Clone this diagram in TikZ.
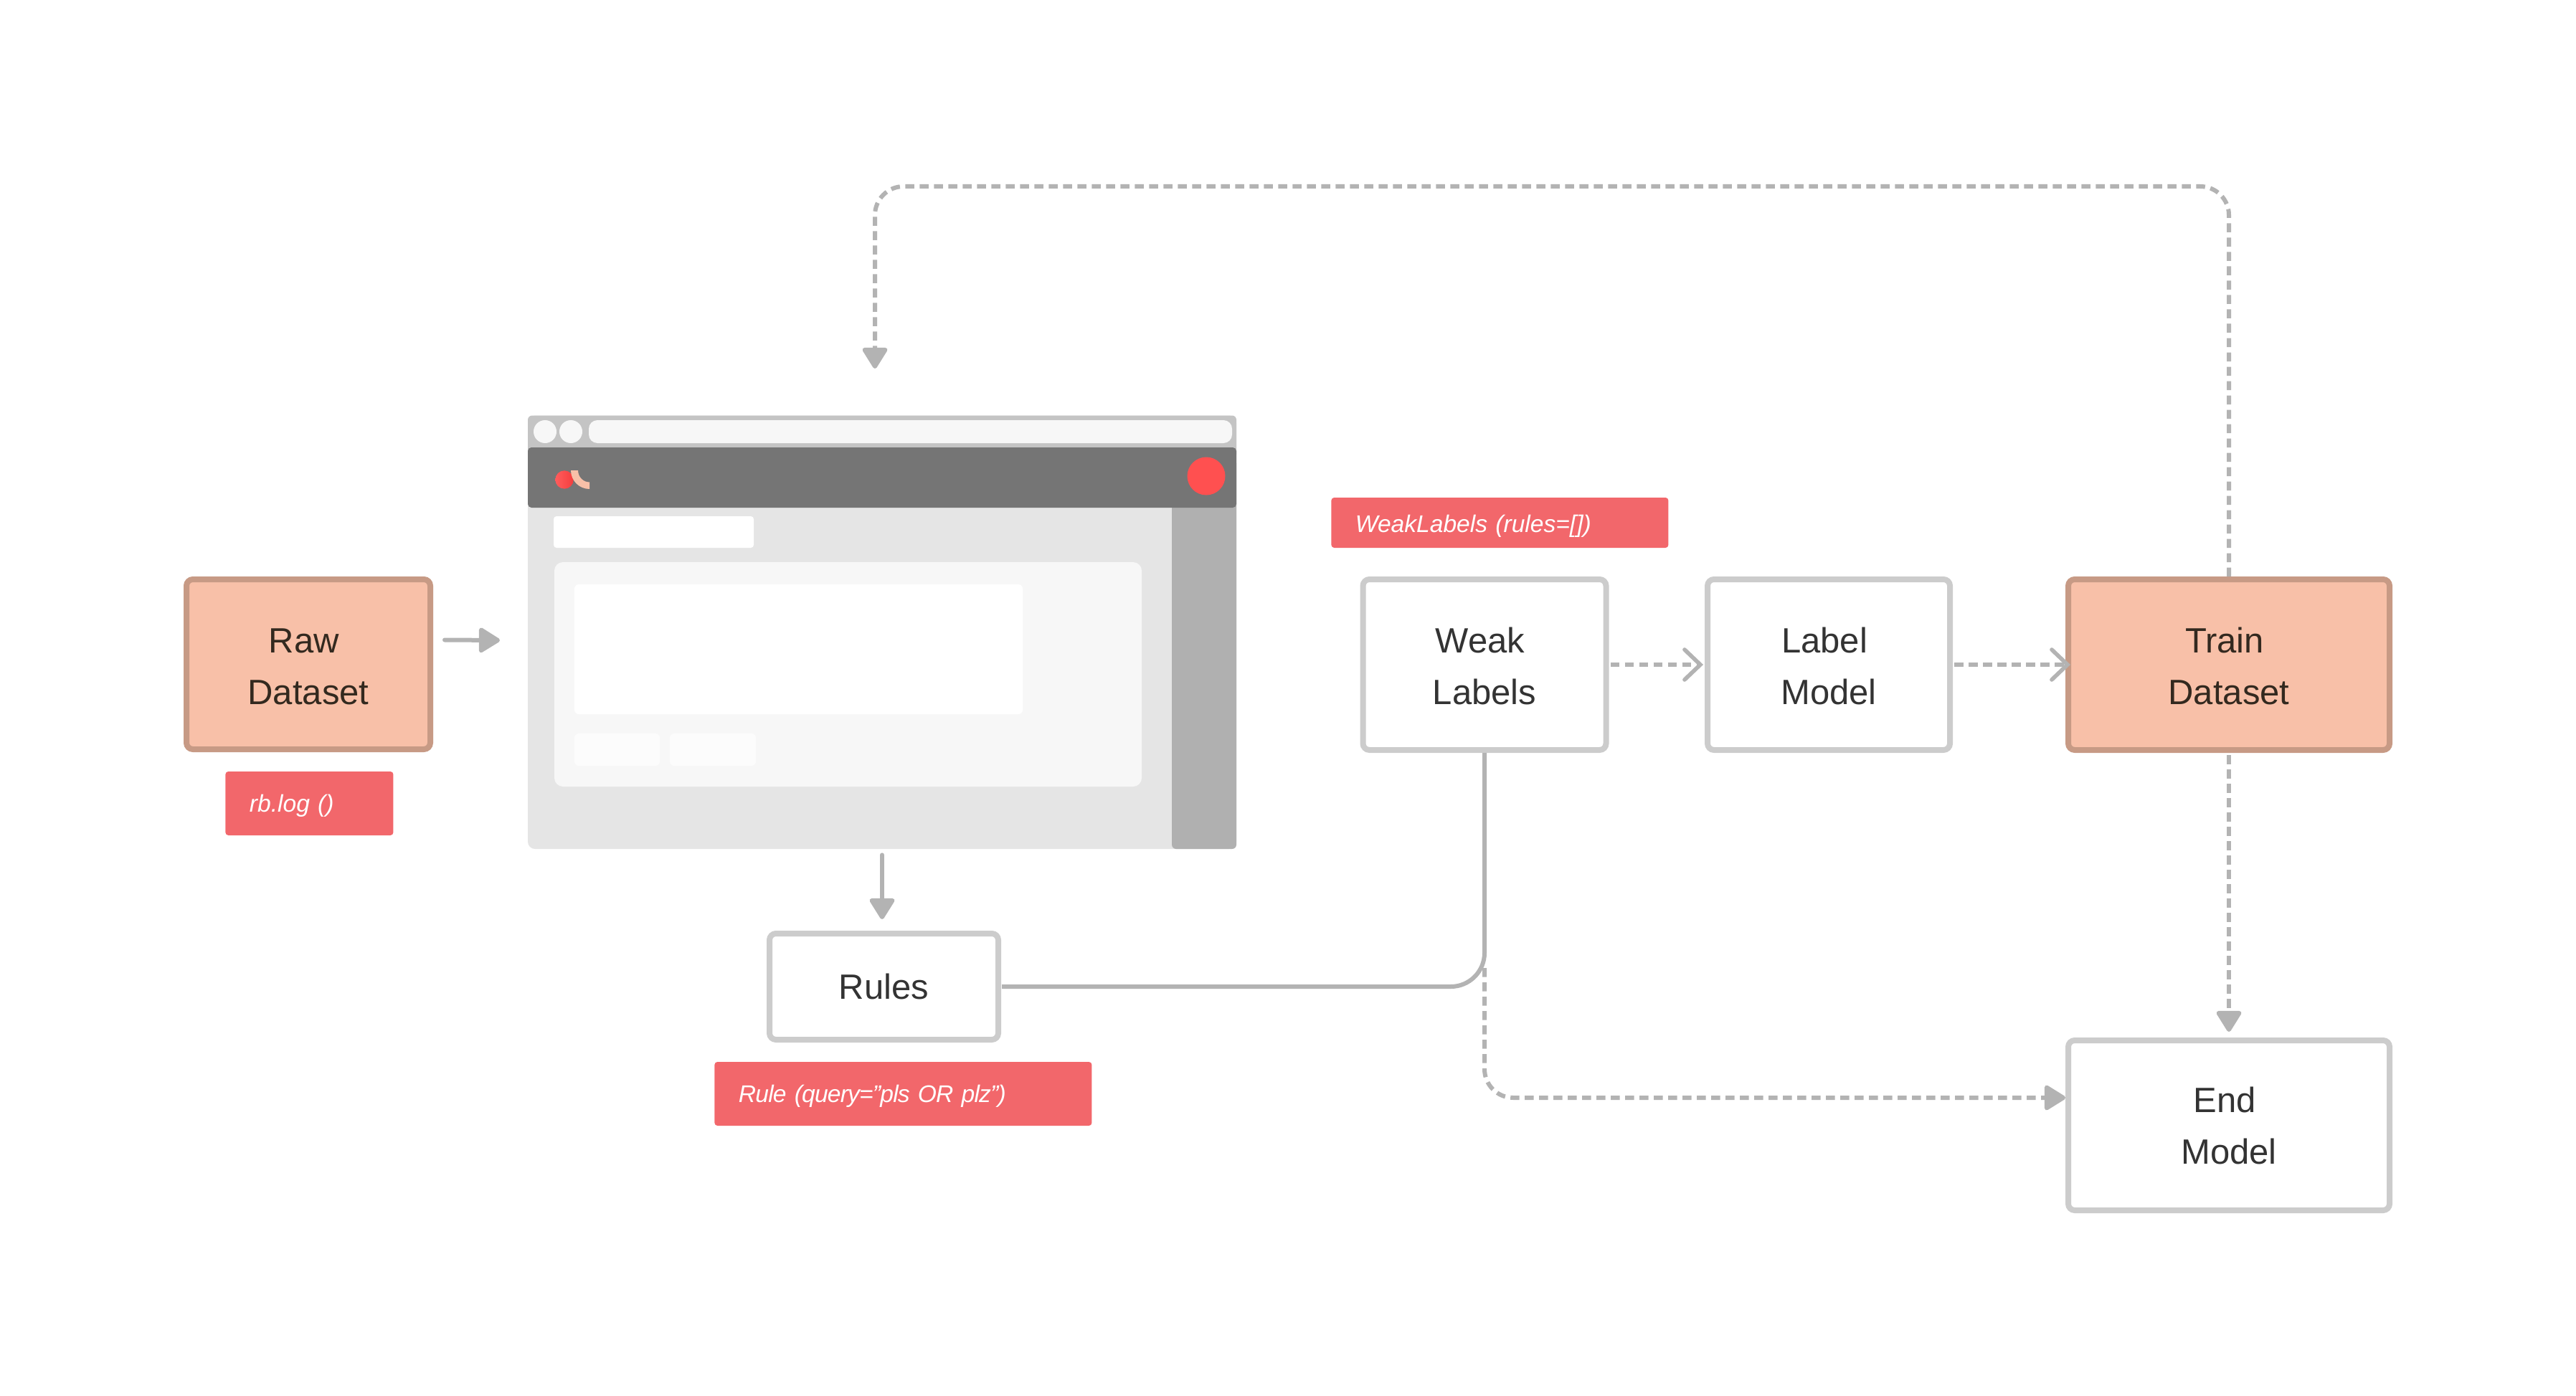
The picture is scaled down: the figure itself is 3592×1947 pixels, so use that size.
\documentclass[tikz,border=0pt]{standalone}
\usepackage{fontspec}
\setmainfont{Liberation Sans}
\usetikzlibrary{arrows.meta,calc}
\definecolor{peach}{HTML}{F8C0A8}
\definecolor{peachedge}{HTML}{C79A85}
\definecolor{boxedge}{HTML}{CCCCCC}
\definecolor{wire}{HTML}{B3B3B3}
\definecolor{tagred}{HTML}{F2676B}
\definecolor{inkdark}{HTML}{333333}
\definecolor{inkwarm}{HTML}{33291F}
\definecolor{barlight}{HTML}{C4C4C4}
\definecolor{bardark}{HTML}{757575}
\definecolor{mainbg}{HTML}{E5E5E5}
\definecolor{sidebg}{HTML}{B0B0B0}
\definecolor{panel}{HTML}{F7F7F7}
\definecolor{dotred}{HTML}{FF5050}
\definecolor{logoa}{HTML}{FF5C5C}
\definecolor{logob}{HTML}{F43E3E}
\newcommand\capstrut{\rule{0pt}{20pt}}
\tikzset{
  boxbase/.style={draw, line width=4pt, rounded corners=4.5pt, align=center, inner sep=0pt,
    font=\fontsize{24.5pt}{36pt}\selectfont},
  whitebox/.style={boxbase, draw=boxedge, fill=white, text=inkdark},
  datapeach/.style={boxbase, draw=peachedge, fill=peach, text=inkwarm},
  codetag/.style={fill=tagred, text=white, rounded corners=2pt, inner ysep=0pt, inner xsep=16.75pt,
    minimum height=#1, text height=11.5pt, text depth=0pt, align=left,
    font=\fontsize{16.8pt}{20pt}\selectfont\itshape, anchor=west},
  flow/.style={draw=wire, line width=3pt, line cap=round},
  flowdash/.style={draw=wire, line width=3pt, dash pattern=on 6.25pt off 3.75pt},
  solidtip/.style={-{Triangle[length=16pt,width=19pt,round]}},
  barbtip/.style={-{Straight Barb[length=11pt,width=21pt,line cap=round,line width=2.8pt]}},
  pane/.style={rounded corners=#1},
}
\begin{document}
\begin{tikzpicture}[x=0.5pt,y=-0.5pt]
\useasboundingbox (0,0) rectangle (3592,1947);

% browser mock-up
\node[fill=mainbg, rounded corners=5pt, minimum width=494pt, minimum height=302.25pt, inner sep=0pt] (browser) at (1230,881.75) {};
\fill[barlight, pane=3pt] (736,579.5) rectangle (1724,640);
\fill[sidebg, pane=3pt] (1634,640) rectangle (1724,1184);
\fill[bardark, pane=2.5pt] (736,624) rectangle (1724,708);
\fill[panel] (760,602) circle[radius=8pt];
\fill[panel] (796,602) circle[radius=8pt];
\fill[panel, pane=6pt] (821,586) rectangle (1718,618);
\fill[white, pane=2pt] (772,720) rectangle (1051,764);
\fill[panel, pane=6pt] (773,784) rectangle (1592,1097);
\fill[white, pane=3pt] (801,815) rectangle (1426,996);
\fill[white!60!panel, pane=3pt] (801,1023) rectangle (920,1068);
\fill[white!60!panel, pane=3pt] (934,1023) rectangle (1054,1068);
\fill[dotred] (1682,664) circle[radius=13.25pt];
\shade[left color=logoa, right color=logob] (787,669) circle[radius=6.35pt];
\fill[peach] (796,656) .. controls (796,670.4) and (807.6,682) .. (822,682) -- (822,672.5) .. controls (813,672.5) and (806,665) .. (806,656) -- cycle;

% boxes
\node[datapeach, minimum width=170pt, minimum height=118.5pt] (raw) at (430,926.5) {\capstrut Raw\hspace*{6pt}\\Dataset};
\node[whitebox, minimum width=169.5pt, minimum height=119pt] (weak) at (2070,927) {\capstrut Weak\hspace*{6pt}\\Labels};
\node[whitebox, minimum width=169pt, minimum height=119pt] (label) at (2550,927) {\capstrut Label\hspace*{6pt}\\Model};
\node[datapeach, minimum width=224pt, minimum height=119pt] (train) at (3108,927) {\capstrut Train\hspace*{6pt}\\Dataset};
\node[whitebox, minimum width=224pt, minimum height=118.5pt] (endm) at (3108,1569.5) {End\hspace*{6pt}\\Model};
\node[whitebox, minimum width=159.5pt, minimum height=74pt] (rules) at (1232.5,1376) {Rules};

% tags
\node[codetag=44.5pt, text width=83.5pt] (tagraw) at (314,1120.5) {rb.log ()};
\node[codetag=35pt, text width=201.5pt, text height=13pt] (tagweak) at (1856,729) {WeakLabels (rules=[])};
\node[codetag=44.5pt, text width=229.5pt] (tagrule) at (996,1525.5) {\addfontfeature{LetterSpace=-2.4}Rule (query=”pls OR plz”)};

% free ends
\coordinate (rawin) at (697,893);
\coordinate (topR) at (3108,260);
\coordinate (topL) at (1220,260);
\coordinate (browserin) at (1220,514);

% connectors
\draw[flow, solidtip] ([xshift=8pt,yshift=17pt]raw.east) -- (rawin);
\draw[flow, solidtip] ([yshift=-4pt]browser.south) -- ([xshift=-1.25pt,yshift=8pt]rules.north);
\draw[flowdash, solidtip, rounded corners=20pt] ([yshift=13pt]rules.east -| weak.south) |- ([yshift=19.25pt]endm.west);
\draw[flow, line cap=butt, rounded corners=23.5pt] ([xshift=0.5pt]rules.east) -| (weak.south);
\draw[flowdash, barbtip] ([xshift=1pt]weak.east) -- ([xshift=-1pt]label.west);
\draw[flowdash, barbtip] ([xshift=1pt]label.east) -- ([xshift=3.5pt]train.west);
\draw[flowdash, solidtip, shorten <=1.5pt, shorten >=4pt] (train.south) -- (endm.north);
\draw[flowdash, solidtip, rounded corners=20pt] (train.north) -- (topR) -- (topL) -- (browserin);
\end{tikzpicture}
\end{document}
